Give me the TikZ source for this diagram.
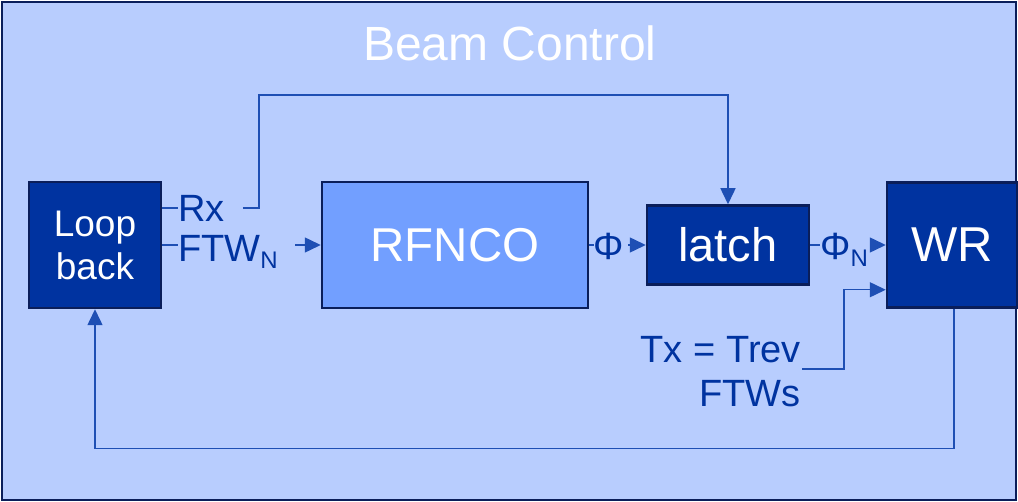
\documentclass[tikz,border=0pt]{standalone}
\usepackage{fontspec}
\setmainfont{Liberation Sans}
\usepackage{tikz}
\usetikzlibrary{arrows.meta,positioning,calc}
\definecolor{panelblue}{HTML}{B8CDFE}
\definecolor{beamnavy}{HTML}{0A1E5A}
\definecolor{blockblue}{HTML}{0033A0}
\definecolor{ncoblue}{HTML}{729FFF}
\definecolor{wireblue}{HTML}{1E4FB4}
\newcommand{\lowidx}[1]{\raisebox{-7pt}[0pt][0pt]{\fontsize{24}{24}\selectfont #1}}
\newcommand{\ctrlbox}[5][]{\node[draw=beamnavy,line width=2.5pt,fill=#2,text=white,
  minimum width=#3,align=center,inner sep=0pt,#1] (#4) {#5};}

\begin{document}
\begin{tikzpicture}[x=1pt,y=-1pt,>={Triangle[length=16pt,width=15pt]},
  wire/.style={draw=wireblue,line width=1.5pt},
  flow/.style={wire,->},
  sig/.style={text=blockblue,inner sep=0pt,font=\fontsize{38}{44}\selectfont}]
\useasboundingbox (0,0) rectangle (1018,502);
\fill[panelblue] (2,2) rectangle (1016,500);
\draw[beamnavy,line width=2pt] (2,2) rectangle (1016,500);
\node[text=white,font=\fontsize{48}{48}\selectfont] (title) at (510,43) {Beam Control};
\ctrlbox[minimum height=126pt,font=\fontsize{37}{43}\selectfont,at={(95,245)}]{blockblue}{132pt}{loop}{Loop\\back}
\ctrlbox[minimum height=126pt,font=\fontsize{47.5}{47.5}\selectfont,at={(455,245)}]{ncoblue}{266pt}{rfnco}{RFNCO}
\ctrlbox[minimum height=79pt,font=\fontsize{47}{47}\selectfont,at={(728,245)}]{blockblue}{162pt}{latch}{latch}
\ctrlbox[minimum height=125pt,font=\fontsize{49}{49}\selectfont,at={(952,245)}]{blockblue}{130pt}{wr}{WR}
\node[sig,anchor=west] (rx) at (178,208) {Rx};
\node[sig,anchor=west] (ftw) at (178,248) {FTW\lowidx{N}};
\node[sig] (phi) at (609,246) {Φ};
\node[sig,anchor=west] (phin) at (820,246) {Φ\lowidx{N}};
\node[sig,align=right,anchor=east] (tx) at (801,372) {Tx = Trev\\FTWs};
\draw[wire] (loop.east |- rx.west) -- (rx.west);
\draw[flow] (rx.east) ++(18,0) -| ++(16,-113) -| (latch.north);
\draw[wire] (loop.east) -- (loop.east -| ftw.west);
\draw[flow] (loop.east -| ftw.east) ++(17,0) -- (rfnco.west);
\draw[wire] (rfnco.east) -- (rfnco.east -| phi.west);
\draw[flow] (rfnco.east -| phi.east) ++(4,0) -- (latch.west);
\draw[wire] (latch.east) -- (latch.east -| phin.west);
\draw[flow] (latch.east -| phin.east) ++(8,0) -- (wr.west);
\draw[flow] ([shift={(1,-3)}]tx.east) -- ++(42,0) |- ([yshift=19pt]wr.south west);
\draw[flow] ([xshift=2pt]wr.south) -- ++(0,140) -| (loop.south);
\end{tikzpicture}
\end{document}
